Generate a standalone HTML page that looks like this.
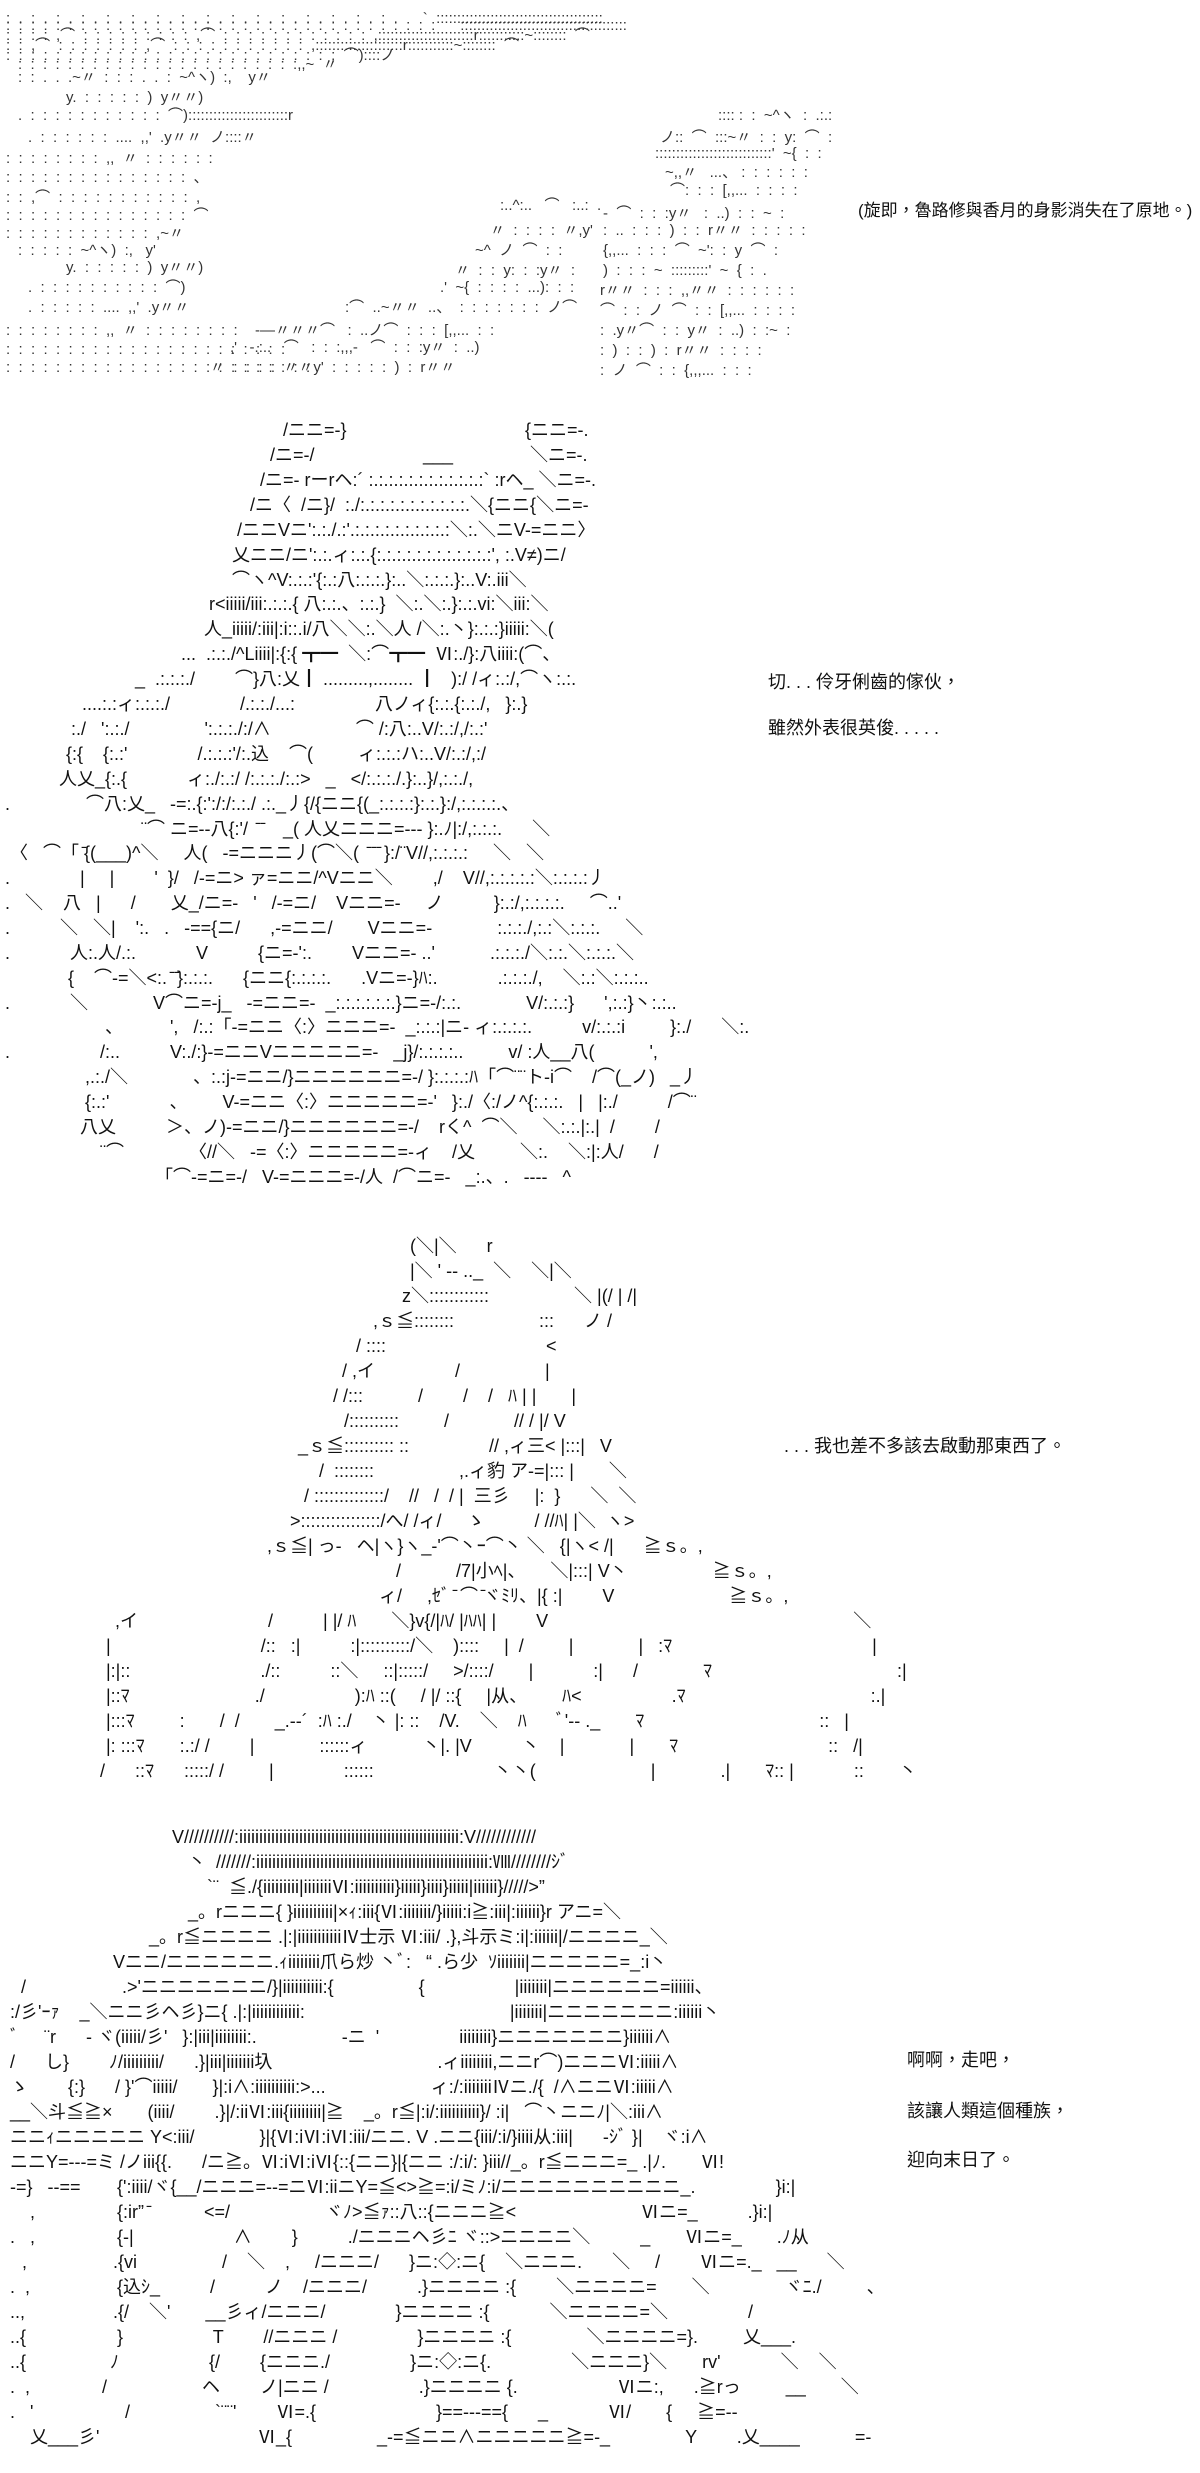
<!DOCTYPE html>
<html><head><meta charset="utf-8">
<style>
html,body{margin:0;padding:0;background:#fff;}
body{width:1200px;height:2473px;position:relative;overflow:hidden;}
.l{position:absolute;white-space:pre;font-family:"Liberation Sans","Noto Sans CJK JP",sans-serif;font-size:18px;line-height:25px;color:#111;}
.s{position:absolute;white-space:pre;font-family:"Liberation Sans","Noto Sans CJK JP",sans-serif;font-size:15px;line-height:17px;color:#333;}
.t{position:absolute;white-space:pre;font-family:"Liberation Sans","Noto Sans CJK TC",sans-serif;font-size:18px;line-height:24px;color:#111;}
b{font-weight:bold}
</style></head><body>

<!-- Section 1 : dotted scenery -->
<div class="s" style="top:10px;left:6px">:  .  :  .  :  .  :  .  :  .  :  .  :  .  :  .  :  .  :  .  :  .  :  .  :  .  :  .  :  .  :  .      `  ::::::::::::::::::::::::::::::::::::::::</div>
<div class="s" style="top:17px;left:6px">:  :  :  :  :  :  :  :  :  :  :  :  :  :  :  :  :  :  :  :  :  :  :  :  :  :  :  :  :  :  :  :  :  :  :      ::::::::::::::::::::::::::::::::::::::::</div>
<div class="s" style="top:27px;left:6px">:  :  :  :  ,⌒  :  :  :  :  :  :  :  :  :  ,⌒  :  :  :  :  :  :  :  :  :  :  :  :  ,:::::::::::::::::::::::r:::::::::::~::::::::  ⌒</div>
<div class="s" style="top:37px;left:6px">:  :  ,⌒  :  :  :  :  :  :  :  ,⌒  :  :  :  :  :  :  :  :  :  :  :  ,:::::::::::::::::::::r:::::::::::~::::::::  ⌒</div>
<div class="s" style="top:47px;left:6px">:  :  :  :  :  :  :  :  :  :  :  :  :  :  :  :  :  :  :  :  :  :  :  :  :  :  :  ⌒)::::ノ</div>
<div class="s" style="top:56px;left:18px">:  :  :  :  :  :  :  :  :  :  :  :  :  :  :  :  :  :  :  :  :  :  :,,~  〃</div>
<div class="s" style="top:69px;left:18px">:  :  .  .  .~〃  :  :  :  .  .  :  ~^ヽ)  :,    y〃</div>
<div class="s" style="top:89px;left:66px">y.  :  :  :  :  :  )  y〃〃)</div>
<div class="s" style="top:107px;left:18px">.  :  :  :  :  :  :  :  :  :  :  :  ⌒)::::::::::::::::::::::::r</div>
<div class="s" style="top:129px;left:28px">.  :  :  :  :  :  :  ....  ,,'  .y〃〃  ノ::::〃</div>
<div class="s" style="top:150px;left:6px">:  :  :  :  :  :  :  :  ,,  〃  :  :  :  :  :  :</div>
<div class="s" style="top:169px;left:6px">:  :  :  :  :  :  :  :  :  :  :  :  :  :  :  、</div>
<div class="s" style="top:189px;left:6px">:  :  ,⌒  :  :  :  :  :  :  :  :  :  :  :  ,</div>
<div class="s" style="top:207px;left:6px">:  :  :  :  :  :  :  :  :  :  :  :  :  :  :  ⌒</div>
<div class="s" style="top:225px;left:6px">:  :  :  :  :  :  :  :  :  :  :  :  ,~〃</div>
<div class="s" style="top:242px;left:18px">:  :  :  :  :  ~^ヽ)  :,   y'</div>
<div class="s" style="top:259px;left:66px">y.  :  :  :  :  :  )  y〃〃)</div>
<div class="s" style="top:279px;left:28px">.  :  :  :  :  :  :  :  :  :  :  ⌒)</div>
<div class="s" style="top:299px;left:28px">.  :  :  :  :  :  ....  ,,'  .y〃〃</div>
<div class="s" style="top:322px;left:6px">:  :  :  :  :  :  :  :  ,,  〃  :  :  :  :  :  :  :  :</div>
<div class="s" style="top:341px;left:6px">:  :  :  :  :  :  :  :  :  :  :  :  :  :  :  :  :  :  :  :  :  :  :</div>
<div class="s" style="top:359px;left:6px">:  :  :  :  :  :  :  :  :  :  :  :  :  :  :  :  :  :  :  :  :  :  :  :  :</div>

<div class="s" style="top:107px;left:718px">:::: :  :  ~^ヽ  :  .:.:</div>
<div class="s" style="top:129px;left:660px">ノ::  ⌒  :::~〃  :  :  y:  ⌒  :</div>
<div class="s" style="top:145px;left:655px">::::::::::::::::::::::::::::'  ~{  :  :</div>
<div class="s" style="top:164px;left:665px">~,,〃   ...、 :  :  :  :  :  :</div>
<div class="s" style="top:182px;left:670px">⌒:  :  :  [,,...  :  :  :  :</div>
<div class="s" style="top:205px;left:603px">-  ⌒  :  :  :y〃   :  ..)  :  :  ~  :</div>
<div class="s" style="top:222px;left:603px">:  ..  :  :  :  )  :  :  r〃〃  :  :  :  :  :</div>
<div class="s" style="top:242px;left:603px">{,,...  :  :  :  ⌒  ~':  :  y  ⌒  :</div>
<div class="s" style="top:262px;left:603px">)  :  :  :  ~  :::::::::'  ~  {  :  .</div>
<div class="s" style="top:282px;left:600px">r〃〃  :  :  :  ,,〃〃  :  :  :  :  :  :</div>
<div class="s" style="top:302px;left:600px">⌒  :  :  ノ  ⌒  :  :  [,,...  :  :  :  :</div>
<div class="s" style="top:322px;left:600px">:  .y〃⌒  :  :  y〃  :  ..)  :  :~  :</div>
<div class="s" style="top:342px;left:600px">:  )  :  :  )  :  r〃〃  :  :  :  :</div>
<div class="s" style="top:362px;left:600px">:  ノ  ⌒  :  :  {,,,...  :  :  :</div>

<div class="s" style="top:197px;left:500px">:..^:..   ⌒   :..:  .</div>
<div class="s" style="top:222px;left:490px">〃  :  :  :  :  〃,y'</div>
<div class="s" style="top:242px;left:475px">~^  ノ  ⌒  :  :</div>
<div class="s" style="top:262px;left:455px">〃  :  :  y:  :  :y〃  :</div>
<div class="s" style="top:279px;left:440px">.'  ~{  :  :  :  :  ...):  :  :</div>
<div class="s" style="top:299px;left:345px">:⌒  ..~〃〃  ..、  :  :  :  :  :  :  :  ノ⌒</div>
<div class="s" style="top:322px;left:255px">-—〃〃〃⌒   :  ..ノ⌒  :  :  :  [,,...  :  :</div>
<div class="s" style="top:339px;left:230px">,'   -.:..   ⌒   :  :  :,,,-   ⌒  :  :  :y〃  :  ..)</div>
<div class="s" style="top:359px;left:210px">〃  :  :  :  :  〃〃y'  :  :  :  :  :  )  :  r〃〃</div>

<div class="t" style="top:199px;left:858px;font-size:17px">(旋即，魯路修與香月的身影消失在了原地。)</div>

<!-- Section 2 -->
<div class="l" style="top:418px;left:283px">/ニニ=-}</div><div class="l" style="top:418px;left:525px">{ニニ=-.</div>
<div class="l" style="top:443px;left:270px">/ニ=-/</div><div class="l" style="top:443px;left:423px">___</div><div class="l" style="top:443px;left:530px">＼ニ=-.</div>
<div class="l" style="top:468px;left:260px">/ニ=- rーrヘ:´ :.:.:.:.:.:.:.:.:.:.:.:` :rヘ_ ＼ニ=-.</div>
<div class="l" style="top:493px;left:250px">/ニ〈  /ニ}/  :./:.:.:.:.:.:.:.:.:.:.:.＼{ニニ{＼ニ=-</div>
<div class="l" style="top:518px;left:237px">/ニニVニ':.:./.:'.:.:.:.:.:.:.:.:.:.:＼:.＼ニV-=ニニ〉</div>
<div class="l" style="top:543px;left:232px">乂ニニ/ニ':.:.ィ:.:.{:.:.:.:.:.:.:.:.:.:.:.:', :.V≠)ニ/</div>
<div class="l" style="top:568px;left:232px">⌒ヽ^V:.:.:'{:.:八:.:.:.}:..＼:.:.:.}:..V:.iii＼</div>
<div class="l" style="top:592px;left:209px">r&lt;iiiii/iii:.:.:.{ 八:.:.、:.:.}  ＼:.＼:.}:.:.vi:＼iii:＼</div>
<div class="l" style="top:617px;left:204px">人_iiiii/:iii|:i::.i/八＼＼:.＼人 /＼:.丶}:.:.:}iiiii:＼(</div>
<div class="l" style="top:642px;left:181px">...  .:.:./^Liiii|:{:{ <b>┳━</b>  ＼:⌒<b>┳━</b>  Ⅵ:./}:八iiii:(⌒、</div>
<div class="l" style="top:667px;left:135px">_  .:.:.:./        ⌒}八:乂<b>┃</b> .........,........ <b>┃</b>   ):/ /ィ:.:/,⌒ヽ:.:.</div>
<div class="l" style="top:692px;left:82px">....:.:ィ:.:.:./              /.:.:./...:                八ノィ{:.:.{:.:./,   }:.}</div>
<div class="l" style="top:717px;left:71px">:./   ':.:./               ':.:.:./:/∧                 ⌒ /:八:..V/:.:/,/:.:'</div>
<div class="l" style="top:742px;left:66px">{:{    {:.:'              /.:.:.:'/:.込    ⌒(         ィ:.:.:ハ:..V/:.:/,:/</div>
<div class="l" style="top:767px;left:59px">人乂_{:.{            ィ:./:.:/ /:.:.:./:.:&gt;   _   &lt;/:.:.:./.}:..}/,:.:./,</div>
<div class="l" style="top:792px;left:5px">.</div><div class="l" style="top:792px;left:86px">⌒八:乂_   -=:.{:':/:/:.:./ .:._丿{/{ニニ{(_:.:.:.:}:.:.}:/,:.:.:.:.、</div>
<div class="l" style="top:817px;left:141px">¨⌒ ニ=--八{:'/  ̄ ̄    _( 人乂ニニニ=--- }:.ﾉ|:/,:.:.:.      ＼</div>
<div class="l" style="top:841px;left:10px">〈   ⌒「 ̄{(___)^＼     人(   -=ニニニ丿(⌒＼(  ̄ ̄ ̄ }:/¨V//,:.:.:.:     ＼   ＼</div>
<div class="l" style="top:866px;left:5px">.</div><div class="l" style="top:866px;left:80px">|     |        '  }/   /-=ニ&gt; ァ=ニニ/^Vニニ＼        ,/    V//,:.:.:.:.:＼:.:.:.:丿</div>
<div class="l" style="top:891px;left:5px">.</div><div class="l" style="top:891px;left:25px">＼    八   |      /       乂_/ニ=-   '   /-=ニ/    Vニニ=-     ノ          }:.:/,:.:.:.:.     ⌒..'</div>
<div class="l" style="top:916px;left:5px">.</div><div class="l" style="top:916px;left:60px">＼   ＼|    ':.   .   -=={ニ/      ,-=ニニ/       Vニニ=-             :.:.:./,:.:＼:.:.:.     ＼</div>
<div class="l" style="top:941px;left:5px">.</div><div class="l" style="top:941px;left:70px">人:.人/.:.            V          {ニ=-':.        Vニニ=- ..'           .:.:.:./＼:.:.＼:.:.:.＼</div>
<div class="l" style="top:966px;left:68px">{    ⌒-=＼&lt;:. ̄ ̄}:.:.:.      {ニニ{:.:.:.:.      .Vニ=-}ﾊ:.            .:.:.:./,    ＼:.:＼:.:.:..</div>
<div class="l" style="top:991px;left:5px">.</div><div class="l" style="top:991px;left:70px">＼             V⌒ニ=-j_   -=ニニ=-  _:.:.:.:.:.:.}ニ=-/:.:.             V/:.:.:}      ',:.:}丶:.:..</div>
<div class="l" style="top:1015px;left:105px">、</div><div class="l" style="top:1015px;left:170px">',   /:.:「-=ニニ〈:〉ニニニ=-  _:.:.:|ニ- ィ:.:.:.:.          v/:.:.:i         }:./      ＼:.</div>
<div class="l" style="top:1040px;left:5px">.</div><div class="l" style="top:1040px;left:100px">/:..          V:./:}-=ニニVニニニニニ=-   _j}/:.:.:.:..         v/ :人__八(           ',</div>
<div class="l" style="top:1065px;left:85px">,.:./＼             、:.:j-=ニニ/}ニニニニニニ=-/ }:.:.:.:ﾊ「⌒¨¨ト-i⌒    /⌒(_ノ)   _丿</div>
<div class="l" style="top:1090px;left:85px">{:.:'            、       V-=ニニ〈:〉ニニニニニ=-'   }:./〈:/ノ^{:.:.:.   |   |:./          /⌒¨</div>
<div class="l" style="top:1115px;left:80px">八乂          ＞、ノ)-=ニニ/}ニニニニニニ=-/    rく^  ⌒＼     ＼:.:.|:.|  /        /</div>
<div class="l" style="top:1140px;left:100px">¨⌒             〈//＼   -=〈:〉ニニニニニ=-ィ    /乂         ＼:.    ＼:|:人/      /</div>
<div class="l" style="top:1165px;left:155px">「⌒-=ニ=-/   V-=ニニニ=-/人  /⌒ニ=-   _:.、.   ----   ^</div>

<div class="t" style="top:670px;left:768px">切. . . 伶牙俐齒的傢伙，</div>
<div class="t" style="top:716px;left:768px">雖然外表很英俊. . . . .</div>

<!-- Section 3 -->
<div class="l" style="top:1234px;left:410px">(＼|＼      r</div>
<div class="l" style="top:1259px;left:410px">|＼ ' -- .._  ＼    ＼|＼</div>
<div class="l" style="top:1284px;left:402px">z＼::::::::::::                 ＼ |(/ | /|</div>
<div class="l" style="top:1309px;left:373px">,ｓ≦::::::::                 :::      ノ /</div>
<div class="l" style="top:1334px;left:356px">/ ::::                                &lt;</div>
<div class="l" style="top:1359px;left:342px">/ ,イ                /                 |</div>
<div class="l" style="top:1384px;left:333px">/ /:::           /        /    /   ﾊ | |       |</div>
<div class="l" style="top:1409px;left:344px">/::::::::::         /             // / |/ V</div>
<div class="l" style="top:1434px;left:298px">_ｓ≦:::::::::: ::                // ,ィ三&lt; |:::|   V</div>
<div class="l" style="top:1459px;left:319px">/  ::::::::                 ,.ィ豹 ア-=|::: |       ＼</div>
<div class="l" style="top:1484px;left:304px">/ ::::::::::::::/    //   /  / |  三彡     |:  }      ＼  ＼</div>
<div class="l" style="top:1509px;left:290px">&gt;::::::::::::::::/へ/ /ィ/     ゝ          / //ﾊ| |＼  ヽ&gt;</div>
<div class="l" style="top:1534px;left:267px">,ｓ≦| っ-   ヘ|ヽ}ヽ_-'⌒丶ｰ⌒丶 ＼   {|ヽ&lt; /|      ≧ｓ。,</div>
<div class="l" style="top:1559px;left:396px">/           /7|小ﾍ|、     ＼|:::| V丶                 ≧ｓ。,</div>
<div class="l" style="top:1584px;left:379px">ィ/     ,ｾﾞ ̄ ⌒ ̄ヾﾐﾘ、|{ :|        V                       ≧ｓ。,</div>
<div class="l" style="top:1609px;left:115px">,イ                          /          | |/ ﾊ       ＼}v{/|ﾊ/ |ﾊﾊ| |        V                                                             ＼</div>
<div class="l" style="top:1634px;left:106px">|                              /::   :|          :|::::::::::/＼    )::::     |  /         |             |   :ﾏ                                        |</div>
<div class="l" style="top:1659px;left:106px">|:|::                          ./::          ::＼     ::|:::::/     &gt;/::::/       |            :|      /             ﾏ                                     :|</div>
<div class="l" style="top:1684px;left:106px">|::ﾏ                         ./                  ):ﾊ ::(     / |/ ::{     |从、       ﾊ&lt;                  .ﾏ                                     :.|</div>
<div class="l" style="top:1709px;left:106px">|:::ﾏ         :       /  /       _.-‐´  :ﾊ :./    丶 |: ::    /V.    ＼    ﾊ      ﾞ'‐- ._       ﾏ                                   ::   |</div>
<div class="l" style="top:1734px;left:106px">|: :::ﾏ       :.:/ /        |             ::::::ィ           丶|. |V          丶    |             |       ﾏ                              ::   /|</div>
<div class="l" style="top:1759px;left:100px">/      ::ﾏ      :::::/ /         |              ::::::                        丶丶(                       |             .|       ﾏ:: |            ::       丶</div>

<div class="t" style="top:1434px;left:784px">. . . 我也差不多該去啟動那東西了。</div>

<!-- Section 4 -->
<div class="l" style="top:1825px;left:172px">V//////////:iiiiiiiiiiiiiiiiiiiiiiiiiiiiiiiiiiiiiiiiiiiiiiiiiiiiiii:V////////////</div>
<div class="l" style="top:1850px;left:188px">丶  ///////:iiiiiiiiiiiiiiiiiiiiiiiiiiiiiiiiiiiiiiiiiiiiiiiiiiiiiiiiii:Ⅷ////////ｼﾞ</div>
<div class="l" style="top:1875px;left:207px">`¨  ≦./{iiiiiiiii|iiiiiiiⅥ:iiiiiiiiii}iiiii}iiii}iiiii|iiiiii}/////&gt;”</div>
<div class="l" style="top:1900px;left:188px">_。rニニニ{ }iiiiiiiiii|×ｨ:iii{Ⅵ:iiiiiii/}iiiii:i≧:iii|:iiiiii}r アニ=＼</div>
<div class="l" style="top:1925px;left:149px">_。r≦ニニニニ .|:|iiiiiiiiiiiⅣ士示 Ⅵ:iii/ .},斗示ミ:i|:iiiiii|/ニニニニ_＼</div>
<div class="l" style="top:1950px;left:113px">Vニニ/ニニニニニニ.ｨiiiiiiii爪ら炒 丶ﾞ:   “ .ら少  ｿiiiiiii|ニニニニニ=_:i丶</div>
<div class="l" style="top:1975px;left:21px">/</div><div class="l" style="top:1975px;left:122px">.&gt;'ニニニニニニニ/}|iiiiiiiiii:{                 {                  |iiiiiii|ニニニニニニ=iiiiii、</div>
<div class="l" style="top:2000px;left:10px">:/彡'ｰｧ    _＼ニニ彡ヘ彡}ニ{ .|:|iiiiiiiiiiii:                                         |iiiiiii|ニニニニニニニ:iiiiii丶</div>
<div class="l" style="top:2025px;left:10px">ﾞ     ¨r      ‐ ヾ(iiiii/彡'   }:|iii|iiiiiiii:.                 ‐ニ  '                iiiiiiii}ニニニニニニニ}iiiiii∧</div>
<div class="l" style="top:2050px;left:10px">/      し}        ﾉ/iiiiiiiii/      .}|iii|iiiiiii圦                                 .ィiiiiiiii,ニニr⌒)ニニニⅥ:iiiii∧</div>
<div class="l" style="top:2075px;left:10px">ゝ        {:}      / }'⌒iiiii/       }|:i∧:iiiiiiiiii:&gt;...                     ィ:/:iiiiiiiⅣニ./{  /∧ニニⅥ:iiiii∧</div>
<div class="l" style="top:2100px;left:10px">__＼斗≦≧×       (iiii/        .}|/:iiⅥ:iii{iiiiiiii|≧    _。r≦|:i/:iiiiiiiiii}/ :i|   ⌒丶ニニﾉ|＼:iii∧</div>
<div class="l" style="top:2125px;left:10px">ニニｨニニニニニ Y&lt;:iii/             }|{Ⅵ:iⅥ:iⅥ:iii/ニニ. V .ニニ{iii/:i/}iiii从:iii|      ‐ｼﾞ }|    ヾ:i∧</div>
<div class="l" style="top:2150px;left:10px">ニニY=---=ミ /ノiii{{.      /ニ≧。Ⅵ:iⅥ:iⅥ{::{ニニ}|{ニニ :/:i/: }iii//_。r≦ニニニ=_ .|ﾉ.       Ⅵ!</div>
<div class="l" style="top:2175px;left:10px">-=}   --==</div><div class="l" style="top:2175px;left:117px">{':iiii/ヾ{__/ニニニ=--=ニⅥ:iiニY=≦&lt;&gt;≧=:i/ミﾉ:i/ニニニニニニニニニニ_.                }i:|</div>
<div class="l" style="top:2200px;left:30px">,</div><div class="l" style="top:2200px;left:117px">{:ir” ̄           &lt;=/                   ヾﾉ&gt;≦ｧ::八::{ニニニ≧&lt;                         Ⅵニ=_          .}i:|</div>
<div class="l" style="top:2225px;left:10px">.   ,</div><div class="l" style="top:2225px;left:117px">{-|                    ∧        }          ./ニニニヘ彡ﾆ ヾ::&gt;ニニニニ＼          _       Ⅵニ=_       .ﾉ从</div>
<div class="l" style="top:2250px;left:22px">,</div><div class="l" style="top:2250px;left:113px">.{vi                 /    ＼    ,     /ニニニ/      }ニ:◇:ニ{    ＼ニニニ.      ＼     /        Ⅵニ=._   __      ＼</div>
<div class="l" style="top:2275px;left:10px">.  ,</div><div class="l" style="top:2275px;left:117px">{込ｼ_          /          ノ    /ニニニ/          .}ニニニニ :{        ＼ニニニニ=       ＼               ヾﾆ./         、</div>
<div class="l" style="top:2300px;left:10px">..,</div><div class="l" style="top:2300px;left:113px">.{/    ＼'       __彡ィ/ニニニ/              }ニニニニ :{            ＼ニニニニ=＼                /</div>
<div class="l" style="top:2325px;left:10px">..{</div><div class="l" style="top:2325px;left:117px">}                  T        //ニニニ /                }ニニニニ :{               ＼ニニニニ=}.         乂___.</div>
<div class="l" style="top:2350px;left:10px">..{</div><div class="l" style="top:2350px;left:110px">ﾉ                  {/        {ニニニ./                }ニ:◇:ニ{.                ＼ニニニ}＼       rv'            ＼    ＼</div>
<div class="l" style="top:2375px;left:10px">.  ,</div><div class="l" style="top:2375px;left:102px">/                   ヘ        ノ|ニニ /                  .}ニニニニ {.                    Ⅵニ:,      .≧rっ         __       ＼</div>
<div class="l" style="top:2400px;left:10px">.   '</div><div class="l" style="top:2400px;left:125px">/                 `¨¨'        Ⅵ=.{                        }==---=={      _            Ⅵ/       {     ≧=--</div>
<div class="l" style="top:2425px;left:30px">乂___彡'</div><div class="l" style="top:2425px;left:258px">Ⅵ_{                 _-=≦ニニ∧ニニニニニ≧=-_               Y        .乂____           =-</div>

<div class="t" style="top:2048px;left:907px">啊啊，走吧，</div>
<div class="t" style="top:2099px;left:907px">該讓人類這個種族，</div>
<div class="t" style="top:2148px;left:907px">迎向末日了。</div>

</body></html>
